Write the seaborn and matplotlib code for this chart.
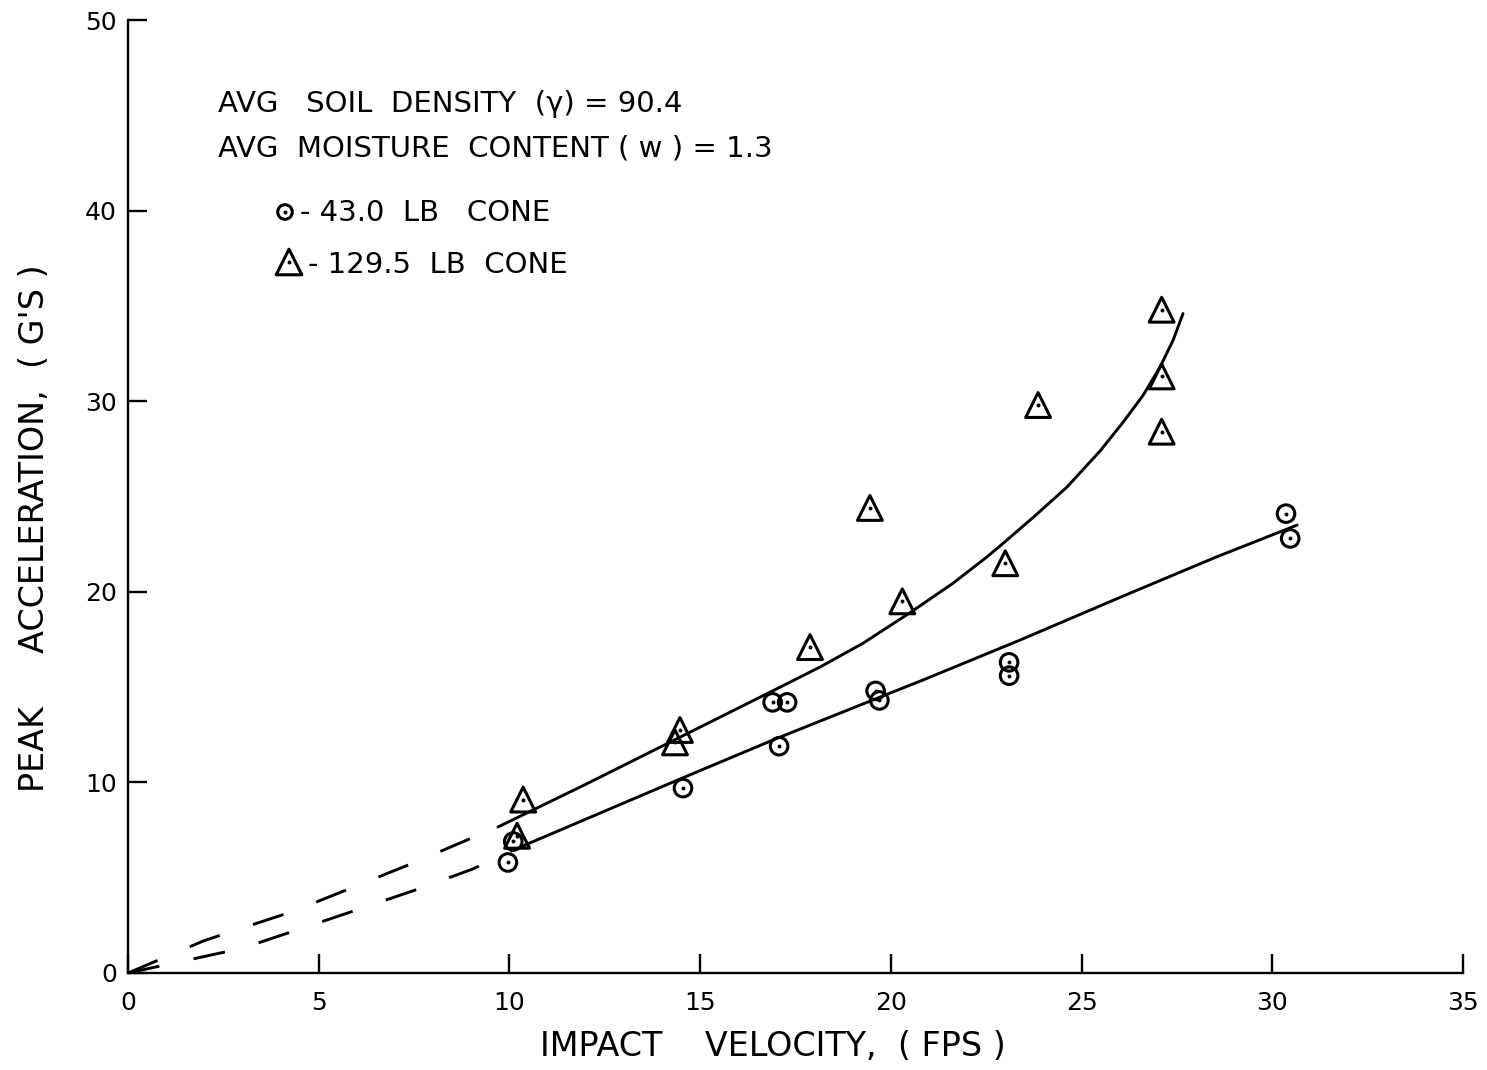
import matplotlib
matplotlib.use("Agg")
import matplotlib.pyplot as plt
import seaborn as sns

# 43.0 lb cone drops: impact velocity (fps) vs peak acceleration (g's)
light_velocity = [9.96, 10.1, 14.55, 17.07, 16.9, 17.28, 19.6, 19.7, 23.1, 23.1, 30.36, 30.47]
light_accel = [5.8, 6.9, 9.7, 11.9, 14.2, 14.2, 14.8, 14.3, 16.3, 15.6, 24.1, 22.8]

# 129.5 lb cone drops
heavy_velocity = [10.36, 10.2, 14.34, 14.47, 17.88, 19.45, 20.3, 23.0, 23.86, 27.1, 27.1, 27.1]
heavy_accel = [9.1, 7.2, 12.1, 12.75, 17.1, 24.4, 19.5, 21.5, 29.8, 34.8, 31.3, 28.4]

# faired curves through each set, and their extrapolation back to the origin
light_fit_v = [10.1, 14.5, 17.0, 20.0, 20.84, 23.39, 26.0, 28.5, 30.65]
light_fit_a = [6.45, 10.2, 12.3, 14.7, 15.37, 17.47, 19.7, 21.8, 23.5]
light_extrap_v = [0.0, 3.0, 6.06, 7.6, 9.03, 10.1]
light_extrap_a = [0.0, 1.3, 3.35, 4.4, 5.45, 6.45]

heavy_fit_v = [9.7, 12.0, 14.5, 17.0, 18.14, 19.27, 20.5, 21.63, 22.5, 22.86, 23.73,
               24.62, 25.49, 26.09, 26.61, 27.06, 27.4, 27.66]
heavy_fit_a = [7.66, 9.9, 12.4, 14.9, 16.05, 17.3, 18.9, 20.45, 21.8, 22.4, 23.9,
               25.5, 27.4, 28.9, 30.3, 31.8, 33.2, 34.6]
heavy_extrap_v = [0.0, 2.0, 4.35, 5.9, 7.45, 8.95, 9.7]
heavy_extrap_a = [0.0, 1.7, 3.25, 4.5, 5.75, 7.03, 7.66]

x_ticks = [0, 5, 10, 15, 20, 25, 30, 35]
y_ticks = [0, 10, 20, 30, 40, 50]

sns.set_style("ticks")
plt.rcParams["font.family"] = ["DejaVu Sans"]

W, H = 1487, 1070
fig = plt.figure(figsize=(W / 100, H / 100), dpi=100)
ax = fig.add_axes([128 / W, 1 - 973 / H, (1463 - 128) / W, (973 - 20) / H])

ink = "black"
lw = 2.1
dashed = (0, (11, 12))

sns.lineplot(x=light_fit_v, y=light_fit_a, color=ink, lw=lw, sort=False, ax=ax)
sns.lineplot(x=heavy_fit_v, y=heavy_fit_a, color=ink, lw=lw, sort=False, ax=ax)
sns.lineplot(x=light_extrap_v, y=light_extrap_a, color=ink, lw=lw, sort=False,
             linestyle=dashed, ax=ax)
sns.lineplot(x=heavy_extrap_v, y=heavy_extrap_a, color=ink, lw=lw, sort=False,
             linestyle=dashed, ax=ax)

# open markers with a centre dot
circ = dict(marker="o", s=160, facecolor="none", edgecolor=ink, linewidth=2.2, zorder=3)
tri = dict(marker="^", s=320, facecolor="none", edgecolor=ink, linewidth=2.2, zorder=3)
dot = dict(marker="o", s=8, color=ink, linewidth=0, zorder=4)

sns.scatterplot(x=light_velocity, y=light_accel, ax=ax, **circ)
sns.scatterplot(x=light_velocity, y=light_accel, ax=ax, **dot)
sns.scatterplot(x=heavy_velocity, y=heavy_accel, ax=ax, **tri)
sns.scatterplot(x=heavy_velocity, y=heavy_accel, ax=ax, **dot)
for coll in ax.collections:
    sizes = coll.get_sizes()
    if len(sizes) and sizes[0] > 50:
        coll.set_facecolor("none")
        coll.set_edgecolor(ink)

ax.set_xlim(0, 35)
ax.set_ylim(0, 50)
ax.set_xticks(x_ticks)
ax.set_yticks(y_ticks)
ax.set_xticklabels([str(t) for t in x_ticks])
ax.set_yticklabels([str(t) for t in y_ticks])
ax.tick_params(axis="both", direction="in", length=14, width=1.7, color=ink,
               labelsize=18, labelcolor=ink)
ax.tick_params(axis="x", pad=13)
ax.tick_params(axis="y", pad=8)
for side in ("top", "right"):
    ax.spines[side].set_visible(False)
for side in ("left", "bottom"):
    ax.spines[side].set_linewidth(1.7)
    ax.spines[side].set_color(ink)
ax.set_xlabel("")
ax.set_ylabel("")


def fpos(x, y):
    return x / W, 1 - y / H


def note(x, y, s, size=21):
    fig.text(*fpos(x, y), s, fontsize=size, ha="left", va="center", color=ink)


fig.text(*fpos(773, 1046), "IMPACT    VELOCITY,  ( FPS )", fontsize=24,
         ha="center", va="center", color=ink)
fig.text(*fpos(35, 528), "PEAK     ACCELERATION,  ( G'S )", fontsize=24,
         ha="center", va="center", rotation=90, color=ink)

note(218, 104, "AVG   SOIL  DENSITY  (γ) = 90.4")
note(218, 148, "AVG  MOISTURE  CONTENT ( w ) = 1.3")
note(300, 213, "- 43.0  LB   CONE")
note(308, 265, "- 129.5  LB  CONE")

# key symbols
key_x = [(285 - 128) / 1335, (289 - 128) / 1335]
key_y = [(973 - 212) / 953, (973 - 262) / 953]
ax.scatter([key_x[0]], [key_y[0]], transform=ax.transAxes, clip_on=False,
           marker="o", s=110, facecolor="none", edgecolor=ink, linewidth=2.2)
ax.scatter([key_x[1]], [key_y[1]], transform=ax.transAxes, clip_on=False,
           marker="^", s=340, facecolor="none", edgecolor=ink, linewidth=2.2)
ax.scatter(key_x, key_y, transform=ax.transAxes, clip_on=False,
           marker="o", s=8, color=ink, linewidth=0)

fig.savefig("out.png", dpi=100, facecolor="white")
